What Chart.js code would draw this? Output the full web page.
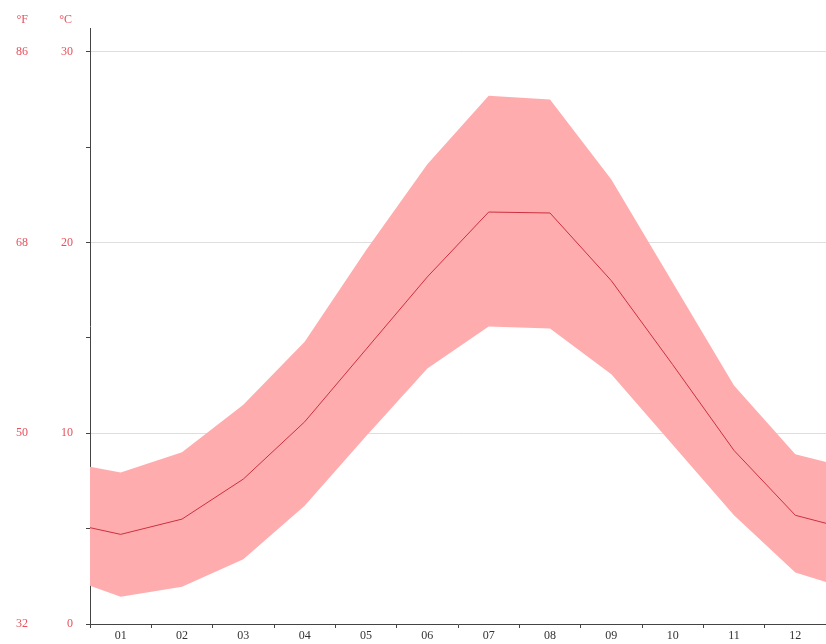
<!DOCTYPE html>
<html>
<head>
<meta charset="utf-8">
<script src="https://cdn.jsdelivr.net/npm/chart.js@4/dist/chart.umd.min.js"></script>
<style>
  html, body { margin: 0; padding: 0; background: #fff; }
  #wrap { width: 826px; height: 644px; }
</style>
</head>
<body>
<div id="wrap"><canvas id="grafica"></canvas></div>
<script>
// months and monthly temperatures (°C)
const MONTHS = ['01', '02', '03', '04', '05', '06', '07', '08', '09', '10', '11', '12'];
const TEMP_MEAN = [4.7, 5.5, 7.6, 10.6, 14.4, 18.2, 21.6, 21.55, 18.0, 13.6, 9.1, 5.7];
const TEMP_MAX = [7.95, 9.0, 11.5, 14.8, 19.6, 24.1, 27.7, 27.5, 23.3, 17.9, 12.5, 8.9];
const TEMP_MIN = [1.43, 1.95, 3.4, 6.2, 9.85, 13.4, 15.6, 15.5, 13.1, 9.4, 5.7, 2.7];
// values at the left and right edge of the year
const EDGE_MEAN = [5.05, 5.28];
const EDGE_MAX = [8.25, 8.5];
const EDGE_MIN = [2.0, 2.2];
const C_TICKS = [0, 10, 20, 30];
const F_TICKS = [32, 50, 68, 86];

const Y_MAX = 31.25;
const ROJO = '#e8505c';
const FUENTE = { family: 'Liberation Serif', size: 12 };

const puntos = (edge, vals) => [
  { x: 0, y: edge[0] },
  ...vals.map((v, i) => ({ x: i + 0.5, y: v })),
  { x: 12, y: edge[1] }
];

const sinRelleno = s => {
  s.paddingTop = 0;
  s.paddingBottom = 0;
  s.paddingLeft = 0;
  s.paddingRight = 0;
};

const encabezados = {
  id: 'encabezados',
  afterDraw(chart) {
    const ctx = chart.ctx;
    ctx.save();
    ctx.font = '12px "Liberation Serif"';
    ctx.fillStyle = ROJO;
    ctx.textAlign = 'right';
    ctx.textBaseline = 'middle';
    ctx.fillText('°F', 28, 20);
    ctx.fillText('°C', 72, 20);
    ctx.restore();
  }
};

new Chart(document.getElementById('grafica'), {
  type: 'line',
  data: {
    datasets: [
      {
        label: 'media',
        data: puntos(EDGE_MEAN, TEMP_MEAN),
        borderColor: '#cc3040',
        borderWidth: 1,
        pointRadius: 0,
        fill: false,
        tension: 0
      },
      {
        label: 'max',
        data: puntos(EDGE_MAX, TEMP_MAX),
        borderColor: 'rgba(0,0,0,0)',
        borderWidth: 0,
        backgroundColor: '#ffacae',
        pointRadius: 0,
        fill: 2,
        tension: 0
      },
      {
        label: 'min',
        data: puntos(EDGE_MIN, TEMP_MIN),
        borderColor: 'rgba(0,0,0,0)',
        borderWidth: 0,
        pointRadius: 0,
        fill: false,
        tension: 0
      }
    ]
  },
  options: {
    responsive: true,
    maintainAspectRatio: false,
    animation: false,
    layout: { padding: { top: 28, left: 0, right: 0, bottom: 0 } },
    plugins: {
      legend: { display: false },
      tooltip: { enabled: false }
    },
    scales: {
      x: {
        type: 'linear',
        min: 0,
        max: 12,
        ticks: {
          stepSize: 0.5,
          autoSkip: false,
          maxRotation: 0,
          padding: 1,
          color: '#333',
          font: FUENTE,
          callback: v => (v % 1 === 0.5 ? MONTHS[Math.floor(v)] : '')
        },
        grid: {
          drawOnChartArea: false,
          tickLength: 4,
          tickColor: c => (c.tick && c.tick.value % 1 === 0 ? '#444' : 'rgba(0,0,0,0)')
        },
        border: { color: '#444', width: 1 },
        afterFit: s => { s.height = 20; sinRelleno(s); }
      },
      y: {
        type: 'linear',
        position: 'left',
        weight: 0,
        min: 0,
        max: Y_MAX,
        ticks: {
          stepSize: 5,
          padding: 13,
          color: ROJO,
          font: FUENTE,
          callback: v => (C_TICKS.includes(v) ? v : '')
        },
        grid: {
          color: c => (c.tick && c.tick.value % 10 === 0 && c.tick.value > 0 ? '#dedede' : 'rgba(0,0,0,0)'),
          tickLength: 4,
          tickColor: c => (c.tick && c.tick.value % 5 === 0 ? '#444' : 'rgba(0,0,0,0)')
        },
        border: { color: '#444', width: 1 },
        afterFit: s => { s.width = 32; sinRelleno(s); }
      },
      yF: {
        type: 'linear',
        position: 'left',
        weight: 1,
        min: 32,
        max: Y_MAX * 1.8 + 32,
        afterBuildTicks: s => { s.ticks = F_TICKS.map(v => ({ value: v })); },
        ticks: {
          padding: 30,
          color: ROJO,
          font: FUENTE
        },
        grid: { display: false, drawTicks: false },
        border: { display: false },
        afterFit: s => { s.width = 58; sinRelleno(s); }
      }
    }
  },
  plugins: [encabezados]
});
</script>
</body>
</html>
